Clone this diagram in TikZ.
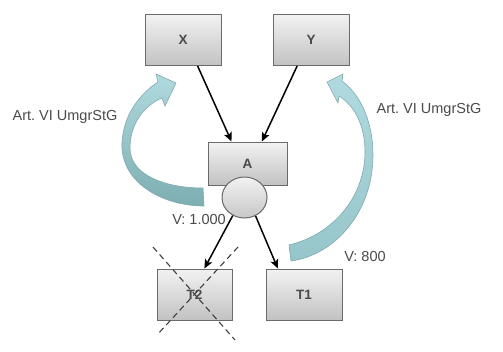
\documentclass[tikz,border=0pt]{standalone}
\usepackage{fontspec}
\setmainfont{Liberation Sans}
\frenchspacing
\usetikzlibrary{arrows.meta,calc,shapes.geometric}
\definecolor{txt}{HTML}{4A4A4A}
\definecolor{boxline}{HTML}{6A6A6A}
\definecolor{tealtop}{HTML}{B0DADF}
\definecolor{tealbot}{HTML}{7DAEB1}
\definecolor{tealmid}{HTML}{9CCBD0}
\definecolor{tealline}{HTML}{80A9AD}
\tikzset{
  box/.style={draw=boxline, line width=1pt, minimum width=76pt, minimum height=51pt,
    top color=white!95!black, bottom color=white!76!black, text=txt,
    font=\fontsize{13.5}{15}\selectfont\bfseries, inner sep=0pt},
  lbl/.style={text=txt, font=\fontsize{14.5}{17}\selectfont\frenchspacing, inner sep=0pt},
  conn/.style={line width=1.5pt, -{Stealth[length=9pt,width=8pt,inset=2pt]}},
  curvearrow/.style={draw=tealline, line width=0.6pt, top color=tealtop, bottom color=tealbot},
  cross/.style={draw=black!75, line width=1.1pt, dash pattern=on 6pt off 4pt}
}
\begin{document}
\begin{tikzpicture}[x=1pt,y=-1pt]
\useasboundingbox (0,0) rectangle (503,351);
% curved arrows
\path[curvearrow] (203,188) .. controls (165,188) and (130,175) .. (130,148)
  .. controls (130,125) and (143,106) .. (162,98) -- (165,106) -- (176,83) -- (156,74) -- (158,82)
  .. controls (135,97) and (121,122) .. (122,148)
  .. controls (124,185) and (165,206) .. (204,206) -- cycle;
\path[curvearrow, bottom color=tealmid!80!tealbot] (289,245) .. controls (335,234) and (365,195) .. (365,152)
  .. controls (365,126) and (355,106) .. (339,96) -- (338,103) -- (327,82) -- (343,74) -- (342,81)
  .. controls (362,96) and (373,124) .. (373,155)
  .. controls (373,212) and (335,255) .. (291,261) -- cycle;
% nodes
\node[box] (X) at (183,40) {X};
\node[box] (Y) at (311,40) {Y};
\node[box, minimum width=79pt, minimum height=43pt] (A) at (247.5,163.5) {A};
\node[ellipse, draw=boxline, line width=1pt, minimum width=45pt, minimum height=41pt,
  top color=white!95!black, bottom color=white!78!black, inner sep=0pt] (E) at (244.5,197.5) {};
\node[box, minimum width=75pt] (T2) at (194.5,294.5) {T2};
\node[box] (T1) at (304,294.5) {T1};
% labels
\node[lbl] (l1) at (65,117) {Art. VI UmgrStG};
\node[lbl] (l2) at (429,110) {Art. VI UmgrStG};
\node[lbl] (v1) at (199,220) {V: 1.000};
\node[lbl] (v2) at (365,257) {V: 800};
% connectors
\draw[conn] ($(X.south west)!0.69!(X.south east)$) -- ($(A.north west)!0.30!(A.north east)$);
\draw[conn] ($(Y.south west)!0.32!(Y.south east)$) -- ($(A.north west)!0.68!(A.north east)$);
\draw[conn] (E.-123) -- ($(T2.north west)!0.63!(T2.north east)$);
\draw[conn] (E.-59) -- ($(T1.north west)!0.16!(T1.north east)$);
% cross
\coordinate (c1) at (153,247);
\coordinate (c2) at (235,340);
\coordinate (c3) at (238,247);
\coordinate (c4) at (157,335);
\draw[cross] (c1) -- (c2);
\draw[cross] (c3) -- (c4);
\end{tikzpicture}
\end{document}
